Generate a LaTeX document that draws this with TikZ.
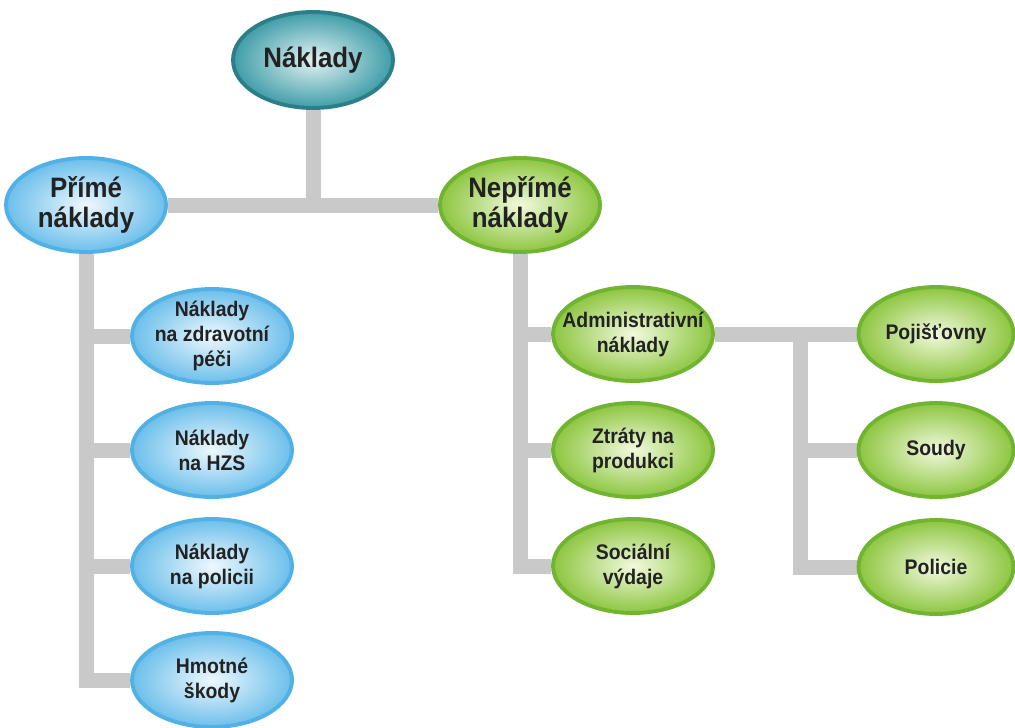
\documentclass[tikz,border=0pt]{standalone}
\usepackage{fontspec}
\setmainfont{Liberation Sans}[FakeStretch=0.92]
\usetikzlibrary{shapes.geometric,backgrounds}

\definecolor{tealin}{HTML}{E2F2F3}
\definecolor{tealout}{HTML}{3F9DA8}
\definecolor{tealline}{HTML}{2C7F89}
\definecolor{bluein}{HTML}{EEF8FD}
\definecolor{blueout}{HTML}{6CBFEB}
\definecolor{blueline}{HTML}{52B1E4}
\definecolor{greenin}{HTML}{F2F9DD}
\definecolor{greenout}{HTML}{8DC640}
\definecolor{greenline}{HTML}{70B432}
\definecolor{bargray}{HTML}{C9C9C9}
\definecolor{txtgray}{HTML}{222222}

\tikzset{
  bub/.style={ellipse, minimum width=32mm, minimum height=18.8mm, inner sep=-12pt,
    line width=2.2pt, align=center, text=txtgray,
    font=\bfseries\fontsize{12}{14.2}\selectfont},
  bub top/.style={bub, draw=tealline, inner color=tealin, outer color=tealout,
    minimum height=19.2mm, font=\bfseries\fontsize{16}{18}\selectfont},
  bub blue/.style={bub, draw=blueline, inner color=bluein, outer color=blueout},
  bub green/.style={bub, draw=greenline, inner color=greenin, outer color=greenout},
  bub big/.style={font=\bfseries\fontsize{16}{17}\selectfont},
  bar/.style={draw=bargray, line width=3mm}
}

\begin{document}
\begin{tikzpicture}[x=0.2mm,y=-0.2mm]
  \useasboundingbox (0,0) rectangle (1015,727);

  % top and second level
  \node[bub top] (nakl) at (313,60) {Náklady};
  \node[bub blue,bub big] (prime) at (86,205) {Přímé\\náklady};
  \node[bub green,bub big] (neprime) at (520,205) {Nepřímé\\náklady};

  % direct costs
  \foreach \n/\y/\t in {zdrav/336/{Náklady\\na zdravotní\\péči},
                        hzs/450/{Náklady\\na HZS},
                        polic/566/{Náklady\\na policii},
                        skody/680/{Hmotné\\škody}}
    \node[bub blue] (\n) at (212,\y) {\t};

  % indirect costs
  \foreach \n/\y/\t in {adm/334/{Administrativní\\náklady},
                        ztraty/450/{Ztráty na\\produkci},
                        soc/566/{Sociální\\výdaje}}
    \node[bub green] (\n) at (633,\y) {\t};
  \foreach \n/\y/\t in {pojist/334/{Pojišťovny},
                        soudy/450/{Soudy},
                        policie/567/{Policie}}
    \node[bub green,minimum width=31mm] (\n) at (936,\y) {\t};

  \coordinate (rtrunk) at (800,334);

  % grey bars behind the bubbles
  \begin{scope}[on background layer]
    \draw[bar] (nakl) -- (nakl |- prime);
    \draw[bar] (prime) -- (neprime);
    \draw[bar] (prime) |- (skody);
    \foreach \n in {zdrav,hzs,polic}
      \draw[bar] (prime |- \n) -- (\n);
    \draw[bar] (neprime) |- (soc);
    \foreach \n in {adm,ztraty}
      \draw[bar] (neprime |- \n) -- (\n);
    \draw[bar] (adm) -- (pojist);
    \draw[bar] (rtrunk) |- (policie);
    \draw[bar] (rtrunk |- soudy) -- (soudy);
  \end{scope}
\end{tikzpicture}
\end{document}
